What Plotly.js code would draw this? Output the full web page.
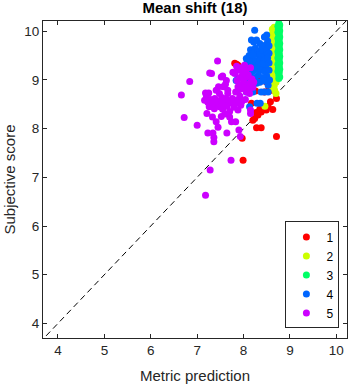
<!DOCTYPE html>
<html>
<head>
<meta charset="utf-8">
<script src="https://cdn.plot.ly/plotly-3.0.1.min.js"></script>
<style>html,body{margin:0;padding:0;background:#fff;}#chart{width:351px;height:385px;}</style>
</head>
<body>
<div id="chart"></div>
<script>
// Series names
const seriesNames = ["1", "2", "3", "4", "5"];
const seriesColors = ["#FF0000", "#CCFF00", "#00FF66", "#0066FF", "#CC00FF"];

// Series 1 (red)
const x1 = [7.81,7.88,7.85,8.09,8.24,8.45,8.63,8.49,8.45,8.55,8.26,8.71,8.58,8.53,8.49,8.38,8.31,8.24,8.20,8.63,8.42,8.17,8.28,8.38,8.71,7.97,7.99,8.60,8.00,8.33,8.35,8.27,8.13,8.35];
const y1 = [9.34,9.30,9.32,9.16,9.37,9.23,9.27,8.96,8.75,8.82,8.77,8.62,8.55,8.45,8.38,8.34,8.28,8.21,8.17,8.39,8.41,8.52,8.02,8.02,7.84,7.80,7.35,8.79,9.05,9.00,8.40,8.33,8.79,8.96];

// Series 2 (yellow-green)
const x2 = [8.66,8.62,8.68,8.64,8.60,8.67,8.63,8.69,8.61,8.66,8.62,8.68,8.60,8.65,8.70,8.62,8.67,8.60,8.64,8.69,8.58,8.63,8.68,8.57,8.62,8.53,8.66,8.60,8.67,8.58,8.64,8.70,8.60,8.66,8.62,8.67,8.70,8.46];
const y2 = [10.08,10.04,10.00,9.96,9.92,9.90,9.85,9.82,9.78,9.74,9.70,9.66,9.62,9.58,9.55,9.52,9.48,9.45,9.41,9.38,9.35,9.32,9.28,9.25,9.22,9.13,9.18,9.10,9.06,9.02,8.98,8.95,8.92,8.88,8.84,8.79,8.72,8.46];

// Series 3 (green)
const x3 = [8.76,8.78,8.74,8.77,8.75,8.78,8.74,8.77,8.76,8.78,8.74,8.77,8.75,8.78,8.74,8.77,8.76,8.78,8.74,8.77,8.75,8.78,8.74,8.77,8.76,8.78,8.74,8.77,8.75,8.78,8.74,8.77,8.76,8.78,8.76];
const y3 = [10.16,10.13,10.10,10.07,10.04,10.01,9.98,9.95,9.92,9.88,9.85,9.82,9.78,9.75,9.72,9.68,9.65,9.62,9.58,9.55,9.52,9.48,9.45,9.42,9.38,9.35,9.32,9.28,9.25,9.22,9.18,9.15,9.10,9.06,9.03];

// Series 4 (blue)
const x4 = [8.24,8.50,8.45,8.52,8.48,8.40,8.35,8.28,8.22,8.17,8.15,8.25,8.32,8.42,8.50,8.55,8.55,8.45,8.38,8.30,8.20,8.12,8.18,8.26,8.35,8.44,8.52,8.55,8.48,8.40,8.30,8.22,8.14,8.08,8.06,8.20,8.10,8.20,8.28,8.38,8.46,8.55,8.50,8.42,8.32,8.25,8.15,8.05,8.35,8.28,8.45,8.53,8.56,8.20,8.45,8.53,8.06,7.88,8.13,8.29,8.38,8.36,8.06,7.84];
const y4 = [10.02,9.92,9.88,9.80,9.72,9.68,9.75,9.82,9.78,9.82,9.62,9.65,9.60,9.58,9.62,9.70,9.55,9.50,9.48,9.52,9.55,9.50,9.42,9.40,9.42,9.40,9.45,9.35,9.30,9.32,9.30,9.28,9.32,9.38,9.44,9.51,9.20,9.18,9.22,9.20,9.18,9.20,9.08,9.05,9.10,9.05,9.08,9.00,8.95,8.93,8.98,8.89,9.00,8.75,8.75,8.75,8.86,9.03,8.45,8.52,8.75,8.52,8.75,8.99];

// Series 5 (purple)
const x5 = [7.44,7.31,6.84,7.55,7.61,6.66,7.18,7.25,7.66,7.53,7.20,7.23,7.34,7.41,7.48,7.57,7.72,7.81,7.89,7.92,7.21,7.33,6.72,7.00,7.41,7.45,7.70,7.74,7.83,7.64,7.23,7.34,7.36,7.36,7.90,7.93,8.15,8.15,7.73,7.28,7.18,7.81,7.86,7.88,7.83,7.99,8.06,8.13,8.06,8.13,8.02,7.46,7.63,7.66,7.16,7.29,7.38,7.46,7.52,7.62,7.68,7.76,7.85,7.96,8.04,7.26,7.37,7.55,7.64,7.79,7.94,7.88,7.70,7.60,7.52,7.95,8.05,8.10,7.98,7.92,8.00,8.08,7.95,8.18,8.20,8.12,7.90,8.00,7.85,7.88,8.15,8.22,7.27,7.52,7.77,7.56,7.48,7.41];
const y5 = [9.39,9.13,8.97,9.08,8.91,8.69,8.73,8.73,8.72,8.64,8.67,8.54,8.53,8.48,8.45,8.53,8.53,8.58,8.60,8.67,8.31,8.24,8.23,8.07,8.14,8.03,8.24,8.14,8.14,7.91,7.91,7.91,7.82,7.73,7.97,7.84,8.38,8.31,7.35,7.15,6.63,9.13,8.99,8.86,8.75,9.20,9.06,8.93,8.75,8.72,9.30,8.86,8.99,8.79,8.58,8.60,8.62,8.56,8.58,8.62,8.57,8.62,8.52,8.55,8.60,8.45,8.41,8.40,8.46,8.44,8.48,8.38,8.35,8.30,8.25,9.25,9.18,9.10,9.12,9.05,8.98,8.88,8.90,9.02,8.85,8.80,8.80,8.82,9.28,9.20,9.25,8.95,9.14,9.06,9.16,8.86,8.72,8.79];

// Diagonal reference (y = x), spanning beyond the axis range
const diagLine = [3, 11];

// Axis ranges and ticks
const xRange = [3.677, 10.23];
const yRange = [3.70, 10.21];
const tickVals = [4, 5, 6, 7, 8, 9, 10];
const tickText = ["4", "5", "6", "7", "8", "9", "10"];

const xs = [x1, x2, x3, x4, x5];
const ys = [y1, y2, y3, y4, y5];

const traces = [{
  x: diagLine, y: diagLine, mode: "lines", showlegend: false, hoverinfo: "skip",
  line: {color: "#000000", width: 1, dash: "6px,4px"}
}];
for (let i = 0; i < 5; i++) {
  traces.push({
    x: xs[i], y: ys[i], mode: "markers", type: "scatter", name: seriesNames[i],
    marker: {color: seriesColors[i], size: 7, line: {width: 0}}
  });
}

const axisCommon = {
  showline: true, mirror: "ticks", linecolor: "#262626", linewidth: 1,
  ticks: "inside", ticklen: 4, tickcolor: "#262626", tickwidth: 1,
  showgrid: false, zeroline: false,
  tickvals: tickVals, ticktext: tickText,
  tickfont: {family: "Liberation Sans, Arial, sans-serif", size: 13.5, color: "#262626"},
  automargin: false
};

const layout = {
  width: 351, height: 385,
  margin: {l: 43, r: 4, t: 21, b: 47},
  paper_bgcolor: "#ffffff", plot_bgcolor: "#ffffff",
  font: {family: "Liberation Sans, Arial, sans-serif", color: "#262626"},
  title: {text: "<b>Mean shift (18)</b>", font: {size: 15, color: "#000000"},
          x: 0.5, xref: "paper", y: 0.979, yref: "container", yanchor: "middle"},
  xaxis: Object.assign({}, axisCommon, {range: xRange,
    title: {text: "Metric prediction", font: {size: 15, color: "#262626"}, standoff: 13}}),
  yaxis: Object.assign({}, axisCommon, {range: yRange,
    title: {text: "Subjective score", font: {size: 15, color: "#262626"}, standoff: 5}}),
  legend: {x: 0.975, xanchor: "right", y: 0.03, yanchor: "bottom",
           bordercolor: "#262626", borderwidth: 1, bgcolor: "#ffffff",
           font: {size: 12, color: "#000000"}, itemsizing: "trace"},
  showlegend: true
};

Plotly.newPlot("chart", traces, layout, {staticPlot: true, displayModeBar: false});
</script>
</body>
</html>
